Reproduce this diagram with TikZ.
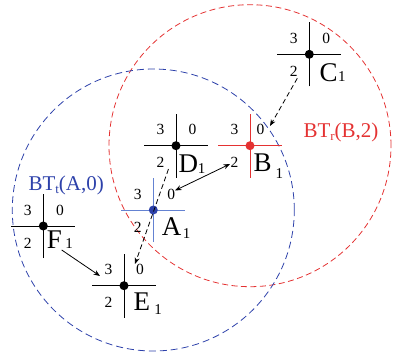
\documentclass[tikz,border=0pt]{standalone}
\usepackage{fontspec}
\setmainfont{Liberation Serif}
\usetikzlibrary{arrows.meta}
\definecolor{myred}{RGB}{228,50,50}
\definecolor{myblue}{RGB}{45,65,170}
\definecolor{lblue}{RGB}{100,130,210}
\tikzset{
  digit/.style={font=\fontsize{15.5}{15.5}\selectfont, inner sep=0pt},
  letter/.style={font=\fontsize{27}{27}\selectfont, inner sep=0pt, anchor=base west},
  btlabel/.style={font=\fontsize{21}{21}\selectfont, inner sep=0pt, anchor=base west},
  crossline/.style={line width=1pt},
  dotmark/.style={circle, fill, inner sep=0pt, minimum size=9pt},
  redrange/.style={myred, line width=0.8pt, dash pattern=on 6pt off 3.5pt},
  bluerange/.style={myblue, line width=0.8pt, dash pattern=on 7pt off 4pt},
  link/.style={line width=0.8pt, -{Stealth[length=6.5pt,width=5pt]}},
  dlink/.style={link, dash pattern=on 5pt off 3pt},
  blink/.style={line width=0.8pt, {Stealth[length=6.5pt,width=5pt]}-{Stealth[length=6.5pt,width=5pt]}},
}
\newcommand\subone[2]{\hspace{#1}\raisebox{-#2}{\fontsize{15}{15}\selectfont 1}}
% name, x, y, line colour, dot colour, x offset of the 0 label
\newcommand\sensor[6]{%
  \coordinate (#1) at (#2,#3);
  \draw[crossline,#4] ([xshift=-32pt]#1) -- ([xshift=32pt]#1);
  \draw[crossline,#4] ([yshift=-32pt]#1) -- ([yshift=32pt]#1);
  \node[dotmark,#5] (#1-dot) at (#1) {};
  \node[digit] (#1-3) at ([xshift=-15.5pt,yshift=16pt]#1) {3};
  \node[digit] (#1-0) at ([xshift=#6,yshift=16pt]#1) {0};
  \node[digit] (#1-2) at ([xshift=-15.5pt,yshift=-17pt]#1) {2};
}
\begin{document}
\begin{tikzpicture}[x=1pt,y=-1pt]
\useasboundingbox (0,0) rectangle (394,356);
% broadcast ranges
\coordinate (Bc) at (250,145.7);
\coordinate (Ac) at (153.3,210);
\draw[redrange] (Bc) circle[radius=141pt];
\draw[bluerange] (Ac) circle[radius=141pt];
% sensors
\sensor{C}{309.3}{54.3}{black}{black}{17pt}
\sensor{D}{176}{145.7}{black}{black}{16.5pt}
\sensor{B}{250}{145.7}{myred}{myred}{10.5pt}
\sensor{A}{153.3}{210}{lblue}{myblue}{18pt}
\sensor{F}{43.3}{226}{black}{black}{16.7pt}
\sensor{E}{124}{285.7}{black}{black}{16pt}
% names
\node[letter] (C-name) at (319.3,81.7) {C\subone{0.5pt}{0pt}};
\node[letter] (D-name) at (178.3,172) {D\subone{0pt}{1.3pt}};
\node[letter] (B-name) at (253.3,171.7) {B\subone{4pt}{6.6pt}};
\node[letter] (A-name) at (161.7,235) {A\subone{1.5pt}{3pt}};
\node[letter] (F-name) at (46.7,248) {F\subone{3.5pt}{0pt}};
\node[letter] (E-name) at (133.3,310) {E\subone{4.5pt}{4pt}};
% range labels
\node[btlabel, myblue] (btA) at (28.3,190) {BT\raisebox{-3pt}{\fontsize{13}{13}\selectfont t}(A,0)};
\node[btlabel, myred] (btB) at (303.3,137.3) {BT\raisebox{-3pt}{\fontsize{13}{13}\selectfont r}(B,2)};
% connector ends
\coordinate (c-out) at (297.3,78.3);
\coordinate (b-in) at (270,126);
\coordinate (d-out) at (168.5,169);
\coordinate (e-in) at (135,264);
\coordinate (b-end) at (230,164);
\coordinate (a-end) at (175,190.5);
\coordinate (f-out) at (61.7,250);
\coordinate (e-in2) at (100,276);
% connectors
\draw[dlink] (c-out) -- (b-in);
\draw[dlink] (d-out) -- (e-in);
\draw[blink] (a-end) -- (b-end);
\draw[link] (f-out) -- (e-in2);
\end{tikzpicture}
\end{document}
